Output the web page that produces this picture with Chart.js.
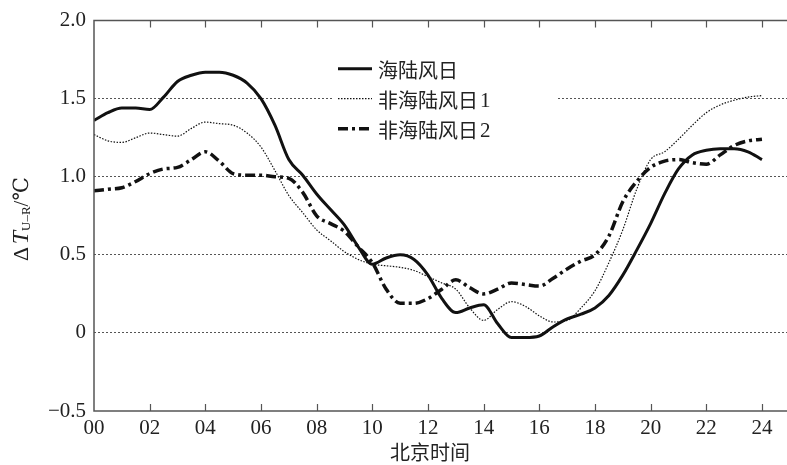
<!DOCTYPE html>
<html>
<head>
<meta charset="utf-8">
<script src="https://cdn.jsdelivr.net/npm/chart.js@4.4.1/dist/chart.umd.min.js"></script>
<style>
  html, body { margin: 0; padding: 0; background: #fff; }
  #wrap { width: 787px; height: 465px; position: relative; }
</style>
</head>
<body>
<div id="wrap"><canvas id="c" width="787" height="465"></canvas></div>
<script>
// Hour of day (Beijing time), half-hour resolution
const hours = [0,0.5,1,1.5,2,2.5,3,3.5,4,4.5,5,5.5,6,6.5,7,7.5,8,8.5,9,9.5,10,10.5,11,11.5,12,
  12.5,13,13.5,14,14.5,15,15.5,16,16.5,17,17.5,18,18.5,19,19.5,20,20.5,21,21.5,22,22.5,23,23.5,24];

// Urban–rural temperature difference ΔT (℃)
const seaBreezeDays = [1.36,1.41,1.44,1.44,1.43,1.51,1.61,1.65,1.67,1.67,1.65,1.60,1.50,1.33,1.11,1.01,
  0.89,0.79,0.69,0.55,0.44,0.48,0.50,0.47,0.37,0.22,0.13,0.16,0.18,0.06,-0.03,-0.03,-0.02,0.04,0.09,
  0.12,0.16,0.24,0.37,0.53,0.70,0.89,1.05,1.14,1.17,1.18,1.18,1.16,1.11];
const nonSeaBreezeDays1 = [1.27,1.23,1.22,1.25,1.28,1.27,1.26,1.31,1.35,1.34,1.33,1.28,1.19,1.04,0.88,0.77,
  0.66,0.59,0.52,0.47,0.44,0.43,0.42,0.40,0.36,0.32,0.28,0.16,0.08,0.15,0.20,0.17,0.11,0.07,0.08,
  0.16,0.27,0.45,0.66,0.92,1.11,1.16,1.24,1.33,1.41,1.46,1.49,1.51,1.52];
const nonSeaBreezeDays2 = [0.91,0.92,0.93,0.97,1.02,1.05,1.06,1.11,1.16,1.10,1.02,1.01,1.01,1.00,0.99,0.90,
  0.75,0.70,0.65,0.55,0.45,0.28,0.19,0.19,0.22,0.28,0.34,0.29,0.25,0.28,0.32,0.31,0.30,0.35,0.41,
  0.46,0.50,0.62,0.84,0.97,1.06,1.10,1.11,1.09,1.08,1.14,1.20,1.23,1.24];

const seriesNames = ['海陆风日', '非海陆风日1', '非海陆风日2'];
const xTicks = [0,2,4,6,8,10,12,14,16,18,20,22,24];
const yTicks = [-0.5,0,0.5,1.0,1.5,2.0];
const yTickLabels = ['\u22120.5','0','0.5','1.0','1.5','2.0'];
const xTitle = '北京时间';

const SERIF = '"Liberation Serif", "DejaVu Serif", "Noto Sans CJK SC", serif';
const CJK = '"Noto Sans CJK SC", "Liberation Serif", serif';
const AXIS_COLOR = '#555';
const INK = '#111';

const lineStyles = [
  { borderWidth: 3, borderDash: [] },
  { borderWidth: 1.2, borderDash: [1.5, 1.5] },
  { borderWidth: 3.5, borderDash: [10, 4, 3, 4] }
];

function toPoints(vals) { return hours.map((h, i) => ({ x: h, y: vals[i] })); }

const datasets = [seaBreezeDays, nonSeaBreezeDays1, nonSeaBreezeDays2].map((vals, i) => ({
  label: seriesNames[i],
  data: toPoints(vals),
  borderColor: INK,
  backgroundColor: INK,
  borderWidth: lineStyles[i].borderWidth,
  borderDash: lineStyles[i].borderDash,
  pointRadius: 0,
  fill: false,
  cubicInterpolationMode: 'monotone',
  borderCapStyle: 'butt'
}));

// Box frame (left, top, bottom) with inward hour ticks on top and bottom edges
const framePlugin = {
  id: 'frame',
  afterDatasetsDraw(chart) {
    const { ctx, chartArea: a, scales } = chart;
    ctx.save();
    ctx.strokeStyle = AXIS_COLOR;
    ctx.lineWidth = 1.5;
    ctx.setLineDash([]);
    ctx.beginPath();
    ctx.moveTo(a.right + 2, a.top); ctx.lineTo(a.left, a.top);
    ctx.lineTo(a.left, a.bottom); ctx.lineTo(a.right + 2, a.bottom);
    ctx.stroke();
    ctx.lineWidth = 1.2;
    ctx.beginPath();
    xTicks.forEach(v => {
      if (v === 0) return;
      const px = Math.round(scales.x.getPixelForValue(v)) + 0.5;
      ctx.moveTo(px, a.bottom); ctx.lineTo(px, a.bottom - 7);
      ctx.moveTo(px, a.top); ctx.lineTo(px, a.top + 7);
    });
    ctx.stroke();
    ctx.restore();
  }
};

// Legend drawn inside the plot on a white panel; trailing digits set in the serif face
const legendPlugin = {
  id: 'innerLegend',
  afterDatasetsDraw(chart) {
    const { ctx } = chart;
    const y15 = chart.scales.y.getPixelForValue(1.5);
    const rows = [y15 - 30, y15, y15 + 30];
    ctx.save();
    ctx.fillStyle = '#fff';
    ctx.fillRect(333, rows[0] - 16, 224, rows[2] - rows[0] + 32);
    rows.forEach((ry, i) => {
      ctx.strokeStyle = INK;
      ctx.lineWidth = lineStyles[i].borderWidth;
      ctx.setLineDash(lineStyles[i].borderDash);
      ctx.beginPath();
      ctx.moveTo(338, ry); ctx.lineTo(372, ry);
      ctx.stroke();
      ctx.setLineDash([]);
      ctx.fillStyle = '#222';
      ctx.textBaseline = 'middle';
      ctx.textAlign = 'left';
      const name = seriesNames[i];
      const m = name.match(/^(.*?)(\d*)$/);
      ctx.font = '20px ' + CJK;
      ctx.fillText(m[1], 378, ry + 2);
      if (m[2]) {
        const w = ctx.measureText(m[1]).width;
        ctx.font = '21px ' + SERIF;
        ctx.fillText(m[2], 378 + w + 2, ry + 3);
      }
    });
    ctx.restore();
  }
};

// Axis titles: x title centred below ticks, rotated y title with subscript
const titlePlugin = {
  id: 'axisTitles',
  afterDraw(chart) {
    const { ctx } = chart;
    ctx.save();
    ctx.fillStyle = '#222';
    ctx.font = '20px ' + CJK;
    ctx.textAlign = 'center';
    ctx.textBaseline = 'middle';
    ctx.fillText(xTitle, 430, 452);

    const parts = [
      { t: '\u0394', f: '22px ' + SERIF, dy: 0 },
      { t: ' ', f: '10px ' + SERIF, dy: 0 },
      { t: 'T', f: 'italic 24px ' + SERIF, dy: 0 },
      { t: 'U\u2013R', f: '13px ' + SERIF, dy: 5 },
      { t: '/\u2103', f: '21px ' + SERIF, dy: 0 }
    ];
    let total = 0;
    parts.forEach(p => { ctx.font = p.f; p.w = ctx.measureText(p.t).width; total += p.w; });
    ctx.translate(22, 219);
    ctx.rotate(-Math.PI / 2);
    ctx.textAlign = 'left';
    ctx.textBaseline = 'middle';
    let x = -total / 2;
    parts.forEach(p => {
      ctx.font = p.f;
      ctx.fillText(p.t, x, p.dy);
      x += p.w;
    });
    ctx.restore();
  }
};

new Chart(document.getElementById('c'), {
  type: 'line',
  data: { datasets },
  options: {
    responsive: false,
    animation: false,
    layout: { padding: { top: 17, right: 0, bottom: 0, left: 0 } },
    plugins: { legend: { display: false }, tooltip: { enabled: false } },
    scales: {
      x: {
        type: 'linear',
        min: 0,
        max: 24.9,
        afterBuildTicks(scale) { scale.ticks = xTicks.map(v => ({ value: v })); },
        afterFit(scale) { scale.height = 54; },
        grid: { display: false, drawTicks: false },
        border: { display: false },
        ticks: {
          autoSkip: false,
          maxRotation: 0,
          padding: 5,
          color: '#222',
          font: { family: SERIF, size: 21 },
          callback: v => String(v).padStart(2, '0')
        }
      },
      y: {
        min: -0.5,
        max: 2.0,
        afterBuildTicks(scale) { scale.ticks = yTicks.map(v => ({ value: v })); },
        afterFit(scale) { scale.width = 94; },
        grid: {
          drawTicks: false,
          lineWidth: 1,
          color: ctx => (ctx.tick && (ctx.tick.value === -0.5 || ctx.tick.value === 2.0)) ? 'rgba(0,0,0,0)' : '#555'
        },
        border: { display: false, dash: [2, 2] },
        ticks: {
          padding: 8,
          color: '#222',
          font: { family: SERIF, size: 21 },
          callback: (v) => {
            const i = yTicks.indexOf(v);
            return i >= 0 ? yTickLabels[i] : '';
          }
        }
      }
    }
  },
  plugins: [framePlugin, legendPlugin, titlePlugin]
});
</script>
</body>
</html>
